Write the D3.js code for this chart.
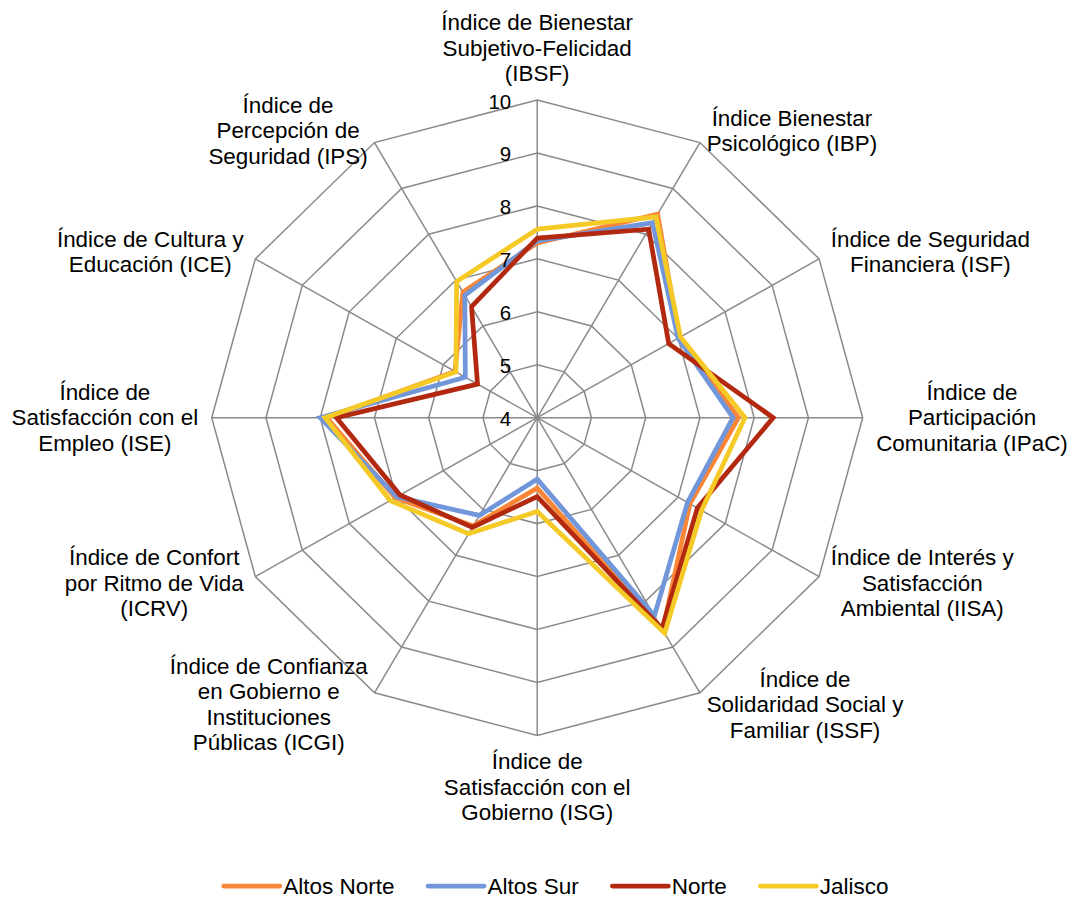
<!DOCTYPE html>
<html><head><meta charset="utf-8">
<script src="https://cdn.jsdelivr.net/npm/d3@7"></script>
<style>
body{margin:0;background:#fff}
svg{display:block}
text{font-family:"Liberation Sans",Arial,Helvetica,sans-serif;fill:#000}
</style>
</head><body>
<svg id="chart" width="1073" height="899"></svg>
<script>
// ---- data ----
const categories = [
  ["Índice de Bienestar","Subjetivo-Felicidad","(IBSF)"],
  ["Índice Bienestar","Psicológico (IBP)"],
  ["Índice de Seguridad","Financiera (ISF)"],
  ["Índice de","Participación","Comunitaria (IPaC)"],
  ["Índice de Interés y","Satisfacción","Ambiental (IISA)"],
  ["Índice de","Solidaridad Social y","Familiar (ISSF)"],
  ["Índice de","Satisfacción con el","Gobierno (ISG)"],
  ["Índice de Confianza","en Gobierno e","Instituciones","Públicas (ICGI)"],
  ["Índice de Confort","por Ritmo de Vida","(ICRV)"],
  ["Índice de","Satisfacción con el","Empleo (ISE)"],
  ["Índice de Cultura y","Educación (ICE)"],
  ["Índice de","Percepción de","Seguridad (IPS)"]
];
const seriesNames = ["Altos Norte","Altos Sur","Norte","Jalisco"];
const altosNorte = [7.30, 8.44, 7.02, 7.71, 7.25, 8.63, 5.33, 6.36, 7.02, 7.88, 5.75, 6.74];
const altosSur   = [7.34, 8.25, 7.00, 7.61, 7.20, 8.32, 5.16, 6.13, 6.99, 8.00, 5.53, 6.67];
const norte      = [7.39, 8.11, 6.80, 8.35, 7.41, 8.60, 5.49, 6.39, 6.92, 7.70, 5.27, 6.42];
const jalisco    = [7.56, 8.38, 7.05, 7.83, 7.50, 8.70, 5.77, 6.53, 7.13, 7.91, 5.73, 6.97];
const tickValues = [4,5,6,7,8,9,10];

// ---- layout / style ----
const seriesValues = [altosNorte, altosSur, norte, jalisco];
const colors = ["#F98636","#7196DA","#B3290F","#F5C926"];
const cx = 537.2, cy = 417.7, R = 317.7, kx = 1.0245;
const gridColor = "#8A8A8A";
const labelFont = 22.4, tickFont = 20.5, lineH = 25.5, pad = 13.5;

const svg = d3.select("#chart");
const r = d3.scaleLinear().domain([4,10]).range([0,R]);
const n = categories.length;
const ang = d3.scaleLinear().domain([0,n]).range([0,2*Math.PI]);
const px = (i,v) => cx + r(v)*Math.sin(ang(i))*kx;
const py = (i,v) => cy - r(v)*Math.cos(ang(i));

// grid polygons
const gGrid = svg.append("g");
tickValues.filter(t=>t>4).forEach(t=>{
  const pts = d3.range(n).map(i=>[px(i,t),py(i,t)]);
  gGrid.append("path")
    .attr("d", d3.line()(pts)+"Z")
    .attr("fill","none").attr("stroke",gridColor).attr("stroke-width",1.5);
});
// spokes
d3.range(n).forEach(i=>{
  gGrid.append("line")
    .attr("x1",cx).attr("y1",cy)
    .attr("x2",px(i,10)).attr("y2",py(i,10))
    .attr("stroke",gridColor).attr("stroke-width",1.5);
});

// series
const line = d3.line().x((d,i)=>px(i,d)).y((d,i)=>py(i,d)).curve(d3.curveLinearClosed);
svg.append("g").selectAll("path").data(seriesValues).join("path")
  .attr("d", d=>line(d))
  .attr("fill","none")
  .attr("stroke",(d,i)=>colors[i])
  .attr("stroke-width",4.75)
  .attr("stroke-linejoin","miter");

// tick labels (drawn above the series)
svg.append("g").selectAll("text").data(tickValues).join("text")
  .attr("x", cx-26)
  .attr("y", d=>cy - r(d) + 1)
  .attr("text-anchor","end")
  .attr("dominant-baseline","central")
  .style("font-size",tickFont+"px")
  .text(d=>d);

// category labels
const gLab = svg.append("g");
categories.forEach((lines,i)=>{
  const a = ang(i), s = Math.sin(a), c = -Math.cos(a);
  const ax = px(i,10) + pad*s, ay = py(i,10) + pad*c;
  const g = gLab.append("g");
  const texts = g.selectAll("text").data(lines).join("text")
    .style("font-size",labelFont+"px")
    .attr("text-anchor","middle")
    .attr("dominant-baseline","central")
    .text(d=>d);
  let w = 0;
  texts.each(function(){ w = Math.max(w, this.getComputedTextLength()); });
  const h = lines.length*lineH;
  let bx, by;
  if (Math.abs(s) < 0.01) {
    bx = ax;
    by = c < 0 ? ay - h/2 : ay + h/2;
  } else {
    bx = s > 0 ? ax + w/2 : ax - w/2;
    by = ay;
  }
  texts.attr("x",bx).attr("y",(d,j)=>by - h/2 + lineH*(j+0.5));
});

// legend
const lg = svg.append("g");
const lineLen = 56, gapText = 3.5, gapItem = 33.5, legY = 886;
const items = [];
let xcur = 0;
seriesNames.forEach((name,i)=>{
  const t = lg.append("text").style("font-size","22.5px")
    .attr("dominant-baseline","central").attr("y",legY).text(name);
  const tw = t.node().getComputedTextLength();
  items.push({t, x:xcur, tw, i});
  xcur += lineLen + gapText + tw + gapItem;
});
const total = xcur - gapItem;
const x0 = 556.2 - total/2;
items.forEach(it=>{
  lg.append("line")
    .attr("x1",x0+it.x).attr("x2",x0+it.x+lineLen)
    .attr("y1",legY).attr("y2",legY)
    .attr("stroke",colors[it.i]).attr("stroke-width",4.75)
    .attr("stroke-linecap","round");
  it.t.attr("x",x0+it.x+lineLen+gapText);
});
</script>
</body></html>
